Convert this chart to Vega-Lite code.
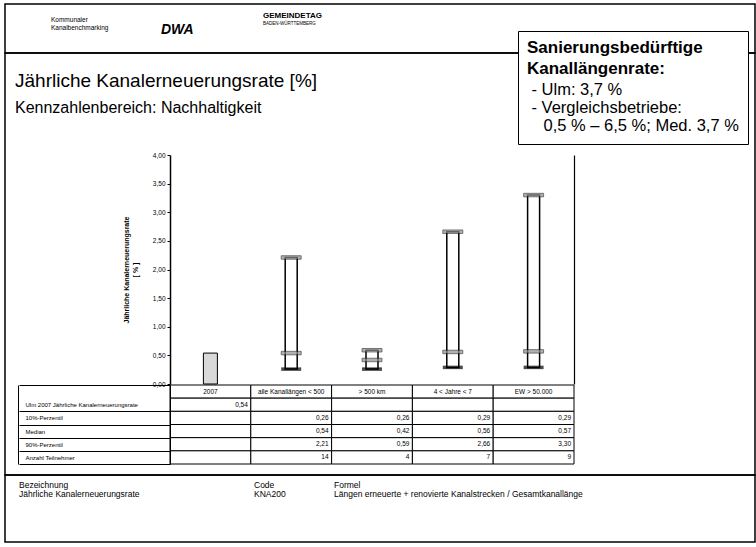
{
  "$schema": "https://vega.github.io/schema/vega-lite/v6.json",
  "padding": {"left": 4, "top": 3, "right": 0, "bottom": 0},
  "bounds": "flush",
  "spacing": 0,
  "config": {
    "font": "Liberation Sans",
    "view": {"stroke": "black", "strokeWidth": 1.5},
    "locale": {"number": {"decimal": ",", "thousands": ".", "grouping": [3], "currency": ["", " €"]}},
    "axis": {"labelFont": "Liberation Sans", "titleFont": "Liberation Sans"}
  },
  "datasets": {
    "boxes": [
      {"cat": "2007", "ulm": 0.54},
      {"cat": "alle Kanallängen < 500", "p10": 0.26, "median": 0.54, "p90": 2.21, "n": 14},
      {"cat": "> 500 km", "p10": 0.26, "median": 0.42, "p90": 0.59, "n": 4},
      {"cat": "4 < Jahre < 7", "p10": 0.29, "median": 0.56, "p90": 2.66, "n": 7},
      {"cat": "EW > 50.000", "p10": 0.29, "median": 0.57, "p90": 3.30, "n": 9}
    ],
    "header": [
      {"col": 0, "row": 0, "t": "Kommunaler"},
      {"col": 0, "row": 1, "t": "Kanalbenchmarking"},
      {"col": 1, "row": 2, "t": "DWA"},
      {"col": 2, "row": 3, "t": "GEMEINDETAG"},
      {"col": 2, "row": 4, "t": "BADEN-WÜRTTEMBERG"}
    ],
    "footer": [
      {"col": 0, "row": 0, "t": "Bezeichnung"},
      {"col": 0, "row": 1, "t": "Jährliche Kanalerneuerungsrate"},
      {"col": 1, "row": 0, "t": "Code"},
      {"col": 1, "row": 1, "t": "KNA200"},
      {"col": 2, "row": 0, "t": "Formel"},
      {"col": 2, "row": 1, "t": "Längen erneuerte + renovierte Kanalstrecken / Gesamtkanallänge"}
    ],
    "note": [
      {"line": "- Ulm: 3,7 %"},
      {"line": "- Vergleichsbetriebe:"},
      {"line": "\u28000,5 % – 6,5 %; Med. 3,7 %"}
    ]
  },
  "vconcat": [
    {
      "width": 750,
      "height": 49,
      "data": {"name": "header"},
      "encoding": {
        "x": {"field": "col", "type": "quantitative", "scale": {"domain": [0, 1, 2], "range": [46, 156, 258], "nice": false, "zero": false}, "axis": null},
        "y": {"field": "row", "type": "quantitative", "scale": {"domain": [0, 1, 2, 3, 4], "range": [18, 26, 30, 14, 21], "nice": false, "zero": false}, "axis": null},
        "text": {"field": "t", "type": "nominal"}
      },
      "layer": [
        {"transform": [{"filter": "datum.row <= 1"}], "mark": {"type": "text", "align": "left", "baseline": "alphabetic", "fontSize": 6.5, "color": "black"}},
        {"transform": [{"filter": "datum.row == 2"}], "mark": {"type": "text", "align": "left", "baseline": "alphabetic", "fontSize": 14, "fontWeight": "bold", "fontStyle": "italic", "color": "black"}},
        {"transform": [{"filter": "datum.row == 3"}], "mark": {"type": "text", "align": "left", "baseline": "alphabetic", "fontSize": 8, "fontWeight": "bold", "color": "black"}},
        {"transform": [{"filter": "datum.row == 4"}], "mark": {"type": "text", "align": "left", "baseline": "alphabetic", "fontSize": 4.5, "color": "black"}}
      ]
    },
    {
      "width": 750,
      "height": 422,
      "title": {
        "text": "Jährliche Kanalerneuerungsrate [%]",
        "subtitle": "Kennzahlenbereich: Nachhaltigkeit",
        "anchor": "start",
        "frame": "group",
        "orient": "top",
        "offset": -66,
        "dx": 10,
        "font": "Liberation Sans",
        "fontSize": 19,
        "fontWeight": "normal",
        "color": "black",
        "subtitleFont": "Liberation Sans",
        "subtitleFontSize": 16,
        "subtitleColor": "black",
        "subtitlePadding": 9
      },
      "layer": [
        {
          "data": {"name": "boxes"},
          "layer": [
            {
              "transform": [{"filter": "isValid(datum.ulm)"}],
              "mark": {"type": "bar", "width": 14, "fill": "#d9d9d9", "stroke": "black", "strokeWidth": 1},
              "encoding": {
                "x": {"field": "cat", "type": "nominal", "scale": {"domain": ["2007", "alle Kanallängen < 500", "> 500 km", "4 < Jahre < 7", "EW > 50.000"], "range": [165, 569], "paddingInner": 0, "paddingOuter": 0}, "axis": null},
                "y": {
                  "field": "ulm", "type": "quantitative",
                  "scale": {"domain": [0, 4], "range": [331, 102], "nice": false, "zero": true},
                  "axis": {
                    "orient": "left", "offset": -165, "grid": false,
                    "values": [0, 0.5, 1, 1.5, 2, 2.5, 3, 3.5, 4], "format": ".2f",
                    "labelFontSize": 6.5, "labelColor": "black", "tickColor": "black", "tickSize": 3,
                    "domainColor": "black", "domainWidth": 1.5,
                    "title": ["Jährliche Kanalerneuerungsrate", "[ % ]"],
                    "titleFontSize": 7, "titleFontWeight": "bold", "titleColor": "black", "titlePadding": 14
                  }
                }
              }
            },
            {
              "transform": [{"filter": "isValid(datum.p90)"}],
              "mark": {"type": "bar", "width": 12, "fill": "white", "stroke": "black", "strokeWidth": 1.5},
              "encoding": {
                "x": {"field": "cat", "type": "nominal", "axis": null},
                "y": {
                  "field": "p90", "type": "quantitative",
                  "scale": {"domain": [0, 4], "range": [331, 102], "nice": false, "zero": true},
                  "axis": {"orient": "right", "offset": -181, "labels": false, "ticks": false, "title": null, "grid": false, "domainColor": "black", "domainWidth": 1.2}
                },
                "y2": {"field": "p10"}
              }
            },
            {
              "transform": [{"filter": "isValid(datum.p90)"}],
              "mark": {"type": "tick", "orient": "horizontal", "size": 20, "thickness": 3.5, "color": "#8f8f8f", "stroke": "black", "strokeWidth": 0.7},
              "encoding": {
                "x": {"field": "cat", "type": "nominal", "axis": null},
                "y": {"field": "p90", "type": "quantitative", "scale": {"domain": [0, 4], "range": [331, 102], "nice": false, "zero": true}, "axis": null}
              }
            },
            {
              "transform": [{"filter": "isValid(datum.median)"}],
              "mark": {"type": "tick", "orient": "horizontal", "size": 20, "thickness": 3.5, "color": "#8f8f8f", "stroke": "black", "strokeWidth": 0.7},
              "encoding": {
                "x": {"field": "cat", "type": "nominal", "axis": null},
                "y": {"field": "median", "type": "quantitative", "scale": {"domain": [0, 4], "range": [331, 102], "nice": false, "zero": true}, "axis": null}
              }
            },
            {
              "transform": [{"filter": "isValid(datum.p10)"}],
              "mark": {"type": "tick", "orient": "horizontal", "size": 20, "thickness": 3.5, "color": "black"},
              "encoding": {
                "x": {"field": "cat", "type": "nominal", "axis": null},
                "y": {"field": "p10", "type": "quantitative", "scale": {"domain": [0, 4], "range": [331, 102], "nice": false, "zero": true}, "axis": null}
              }
            }
          ],
          "resolve": {"axis": {"y": "independent"}}
        },
        {
          "data": {"name": "boxes"},
          "transform": [{"fold": ["cat", "ulm", "p10", "median", "p90", "n"], "as": ["row", "value"]}],
          "layer": [
            {
              "mark": {"type": "rect", "fill": "white", "stroke": "black", "strokeWidth": 1},
              "encoding": {
                "x": {"field": "cat", "type": "nominal", "axis": null},
                "y": {
                  "field": "row", "type": "nominal",
                  "scale": {"domain": ["cat", "ulm", "p10", "median", "p90", "n"], "range": [332, 411], "paddingInner": 0, "paddingOuter": 0},
                  "axis": {
                    "orient": "left", "offset": -165, "title": null, "grid": false,
                    "labelExpr": "{'cat': '', 'ulm': 'Ulm 2007 Jährliche Kanalerneuerungsrate', 'p10': '10%-Perzentil', 'median': 'Median', 'p90': '90%-Perzentil', 'n': '   Anzahl Teilnehmer'}[datum.value]",
                    "labelAlign": "left", "labelPadding": -6, "labelFontSize": 6, "labelColor": "black",
                    "tickBand": "extent", "tickSize": 151, "tickWidth": 1,
                    "tickColor": {"condition": {"test": "datum.value === 'cat'", "value": "white"}, "value": "black"},
                    "tickOpacity": {"condition": {"test": "datum.value === 'cat'", "value": 0}, "value": 1},
                    "domainColor": "black", "domainWidth": 1
                  }
                }
              }
            },
            {
              "transform": [{"filter": "datum.row === 'cat'"}],
              "mark": {"type": "text", "fontSize": 6.5, "baseline": "middle", "color": "black"},
              "encoding": {
                "x": {"field": "cat", "type": "nominal", "axis": null},
                "y": {
                  "field": "row", "type": "nominal",
                  "scale": {"domain": ["cat", "ulm", "p10", "median", "p90", "n"], "range": [332, 411], "paddingInner": 0, "paddingOuter": 0},
                  "axis": {"orient": "left", "offset": -13, "labels": false, "ticks": false, "title": null, "grid": false, "domainColor": "black", "domainWidth": 1}
                },
                "text": {"field": "value", "type": "nominal"}
              }
            },
            {
              "transform": [{"filter": "datum.row !== 'cat' && datum.row !== 'n' && isValid(datum.value)"}],
              "mark": {"type": "text", "align": "right", "dx": -3, "fontSize": 6.5, "baseline": "middle", "color": "black"},
              "encoding": {
                "x": {"field": "cat", "type": "nominal", "bandPosition": 1, "axis": null},
                "y": {"field": "row", "type": "nominal", "scale": {"domain": ["cat", "ulm", "p10", "median", "p90", "n"], "range": [332, 411], "paddingInner": 0, "paddingOuter": 0}, "axis": null},
                "text": {"field": "value", "type": "quantitative", "format": ".2f"}
              }
            },
            {
              "transform": [{"filter": "datum.row === 'n' && isValid(datum.value)"}],
              "mark": {"type": "text", "align": "right", "dx": -3, "fontSize": 6.5, "baseline": "middle", "color": "black"},
              "encoding": {
                "x": {"field": "cat", "type": "nominal", "bandPosition": 1, "axis": null},
                "y": {"field": "row", "type": "nominal", "scale": {"domain": ["cat", "ulm", "p10", "median", "p90", "n"], "range": [332, 411], "paddingInner": 0, "paddingOuter": 0}, "axis": null},
                "text": {"field": "value", "type": "quantitative", "format": "d"}
              }
            }
          ],
          "resolve": {"axis": {"y": "independent"}}
        },
        {
          "data": {"name": "note"},
          "mark": {"type": "point", "opacity": 0},
          "encoding": {
            "shape": {
              "field": "line", "type": "nominal",
              "scale": {"domain": ["- Ulm: 3,7 %", "- Vergleichsbetriebe:", "\u28000,5 % – 6,5 %; Med. 3,7 %"]},
              "legend": {
                "orient": "none", "legendX": 513, "legendY": 27,
                "title": ["Sanierungsbedürftige", "Kanallängenrate:"],
                "titleFont": "Liberation Sans", "titleFontSize": 17, "titleFontWeight": "bold", "titleColor": "black", "titleLineHeight": 21, "titlePadding": 4,
                "labelFont": "Liberation Sans", "labelFontSize": 16.5, "labelColor": "black", "labelOffset": -12, "labelLimit": 300,
                "symbolSize": 0, "symbolOpacity": 0, "symbolStrokeWidth": 0,
                "rowPadding": 1, "padding": 9,
                "strokeColor": "black", "fillColor": "white"
              }
            }
          }
        }
      ],
      "resolve": {"scale": {"y": "independent"}, "axis": {"y": "independent"}}
    },
    {
      "width": 750,
      "height": 67,
      "data": {"name": "footer"},
      "mark": {"type": "text", "align": "left", "baseline": "alphabetic", "fontSize": 8.5, "color": "black"},
      "encoding": {
        "x": {"field": "col", "type": "quantitative", "scale": {"domain": [0, 1, 2], "range": [14, 249, 329], "nice": false, "zero": false}, "axis": null},
        "y": {"field": "row", "type": "quantitative", "scale": {"domain": [0, 1], "range": [13, 22], "nice": false, "zero": false}, "axis": null},
        "text": {"field": "t", "type": "nominal"}
      }
    }
  ]
}
